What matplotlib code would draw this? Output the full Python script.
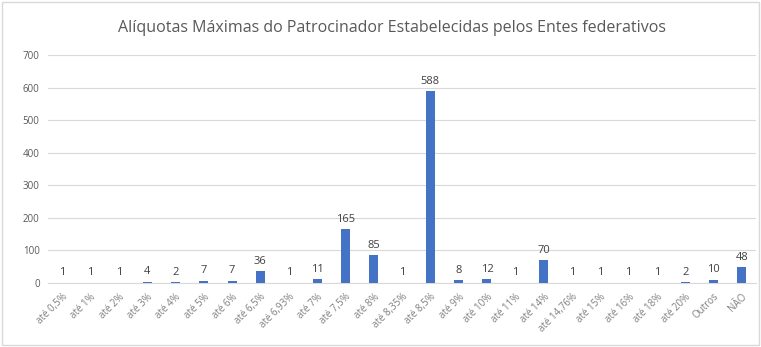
import matplotlib
matplotlib.use("Agg")
import matplotlib.pyplot as plt
from matplotlib.patches import Rectangle

categories = ["até 0,5%", "até 1%", "até 2%", "até 3%", "até 4%", "até 5%", "até 6%",
              "até 6,5%", "até 6,93%", "até 7%", "até 7,5%", "até 8%", "até 8,35%",
              "até 8,5%", "até 9%", "até 10%", "até 11%", "até 14%", "até 14,76%",
              "até 15%", "até 16%", "até 18%", "até 20%", "Outros", "NÃO"]
values = [1, 1, 1, 4, 2, 7, 7, 36, 1, 11, 165, 85, 1, 588, 8, 12, 1, 70, 1, 1, 1, 1, 2, 10, 48]
yticks = [0, 100, 200, 300, 400, 500, 600, 700]
title = "Alíquotas Máximas do Patrocinador Estabelecidas pelos Entes federativos"

plt.rcParams['font.family'] = ['Open Sans', 'DejaVu Sans']
W, H = 761, 347
fig = plt.figure(figsize=(W/100, H/100), dpi=100)
fig.patches.append(Rectangle((2/W, 2/H), 1-4/W, 1-4/H, transform=fig.transFigure,
                             fill=False, edgecolor="#d9d9d9", lw=1))
ax = fig.add_axes([48/W, (H-283)/H, (756-48)/W, (283-55)/H])
x = list(range(len(categories)))
bars = ax.bar(x, values, width=0.32, color="#4472C4", zorder=3)
for xi, v in zip(x, values):
    ax.text(xi, v + 14, str(v), ha="center", va="bottom", fontsize=8, color="#404040")
ax.set_xlim(-0.5, len(categories) - 0.5)
ax.set_ylim(0, 700)
ax.set_yticks(yticks)
ax.set_yticklabels([str(t) for t in yticks], fontsize=7, color="#595959")
ax.set_xticks(x)
ax.set_xticklabels(categories, rotation=45, ha="right", rotation_mode="anchor",
                   fontsize=7, color="#7f7f7f")
ax.grid(axis="y", color="#d9d9d9", lw=0.8, zorder=0)
for s in ["top", "right", "left"]:
    ax.spines[s].set_visible(False)
ax.spines["bottom"].set_color("#d9d9d9")
ax.tick_params(axis="both", length=0, pad=6)
fig.text(392/W, 1 - 28/H, title, ha="center", va="center", fontsize=11.5, color="#595959")
fig.savefig("out.png", dpi=100)
